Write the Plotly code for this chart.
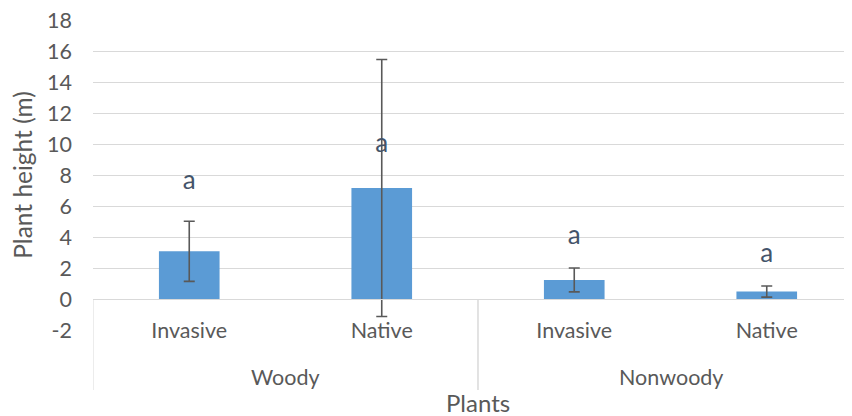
import plotly.graph_objects as go

groups = ["Woody", "Woody", "Nonwoody", "Nonwoody"]
origins = ["Invasive", "Native", "Invasive", "Native"]
heights = [3.08, 7.17, 1.23, 0.48]
errors = [1.94, 8.3, 0.77, 0.36]
letters = ["a", "a", "a", "a"]
letter_y = [7.5, 9.9, 4.0, 2.8]
y_ticks = [-2, 0, 2, 4, 6, 8, 10, 12, 14, 16, 18]
y_ticktext = [str(v) for v in y_ticks]

FONT = "Lato"
GRAY = "#595959"
GRID = "#D9D9D9"

pos = list(range(len(origins)))

fig = go.Figure()
fig.add_trace(go.Bar(
    x=pos, y=heights, width=0.315,
    marker=dict(color="#5B9BD5", line=dict(width=0)),
    error_y=dict(type="data", array=errors, visible=True, color="#595959", thickness=1.6, width=5.5),
    showlegend=False,
))
fig.add_trace(go.Scatter(
    x=pos, y=letter_y, mode="text", text=letters,
    textfont=dict(family=FONT, size=26, color="#44546A"), showlegend=False,
))

# plot area: 310 px tall for 20 units, bottom at -2
PLOT_H = 310
px = lambda p: p / PLOT_H  # pixels below plot bottom -> paper fraction

unique_groups = []
for g in groups:
    if g not in unique_groups:
        unique_groups.append(g)
for g in unique_groups:
    idx = [i for i, gg in enumerate(groups) if gg == g]
    fig.add_annotation(x=sum(idx) / len(idx), xref="x", y=-px(47), yref="paper", yanchor="middle",
                       text=g, showarrow=False, font=dict(family=FONT, size=21.5, color=GRAY))
    for edge in (min(idx) - 0.5, max(idx) + 0.5):
        fig.add_shape(type="line", xref="x", yref="paper", x0=edge, x1=edge, y0=0.1, y1=-px(60),
                      line=dict(color=GRID, width=1))

fig.add_annotation(x=sum(pos) / len(pos), xref="x", y=-px(72), yref="paper", yanchor="middle",
                   text="Plants", showarrow=False, font=dict(family=FONT, size=24, color=GRAY))

fig.update_layout(
    width=844, height=408,
    margin=dict(l=85, r=0, t=12, b=408 - 12 - PLOT_H),
    plot_bgcolor="white", paper_bgcolor="white",
    font=dict(family=FONT, color=GRAY, size=21.5),
    xaxis=dict(
        anchor="free", position=0.1, automargin=False,
        range=[-0.5, -0.5 + (852 - 93) / 192.5],
        tickvals=pos, ticktext=origins,
        showline=True, linecolor=GRID, linewidth=1,
        tickfont=dict(family=FONT, size=21.5, color=GRAY),
        ticklabelstandoff=12,
        showgrid=False, zeroline=False, ticks="",
    ),
    yaxis=dict(
        range=[-2, 18.02], tickvals=y_ticks, ticktext=y_ticktext, automargin=False,
        showgrid=True, gridcolor=GRID, gridwidth=1,
        zeroline=False, showline=False, ticks="",
        ticklabelstandoff=20, ticklabeloverflow="allow",
        tickfont=dict(family=FONT, size=21.5, color=GRAY),
        title=dict(text="Plant height (m)", font=dict(family=FONT, size=24.5, color=GRAY), standoff=13),
    ),
)

fig.write_html("out.html")
